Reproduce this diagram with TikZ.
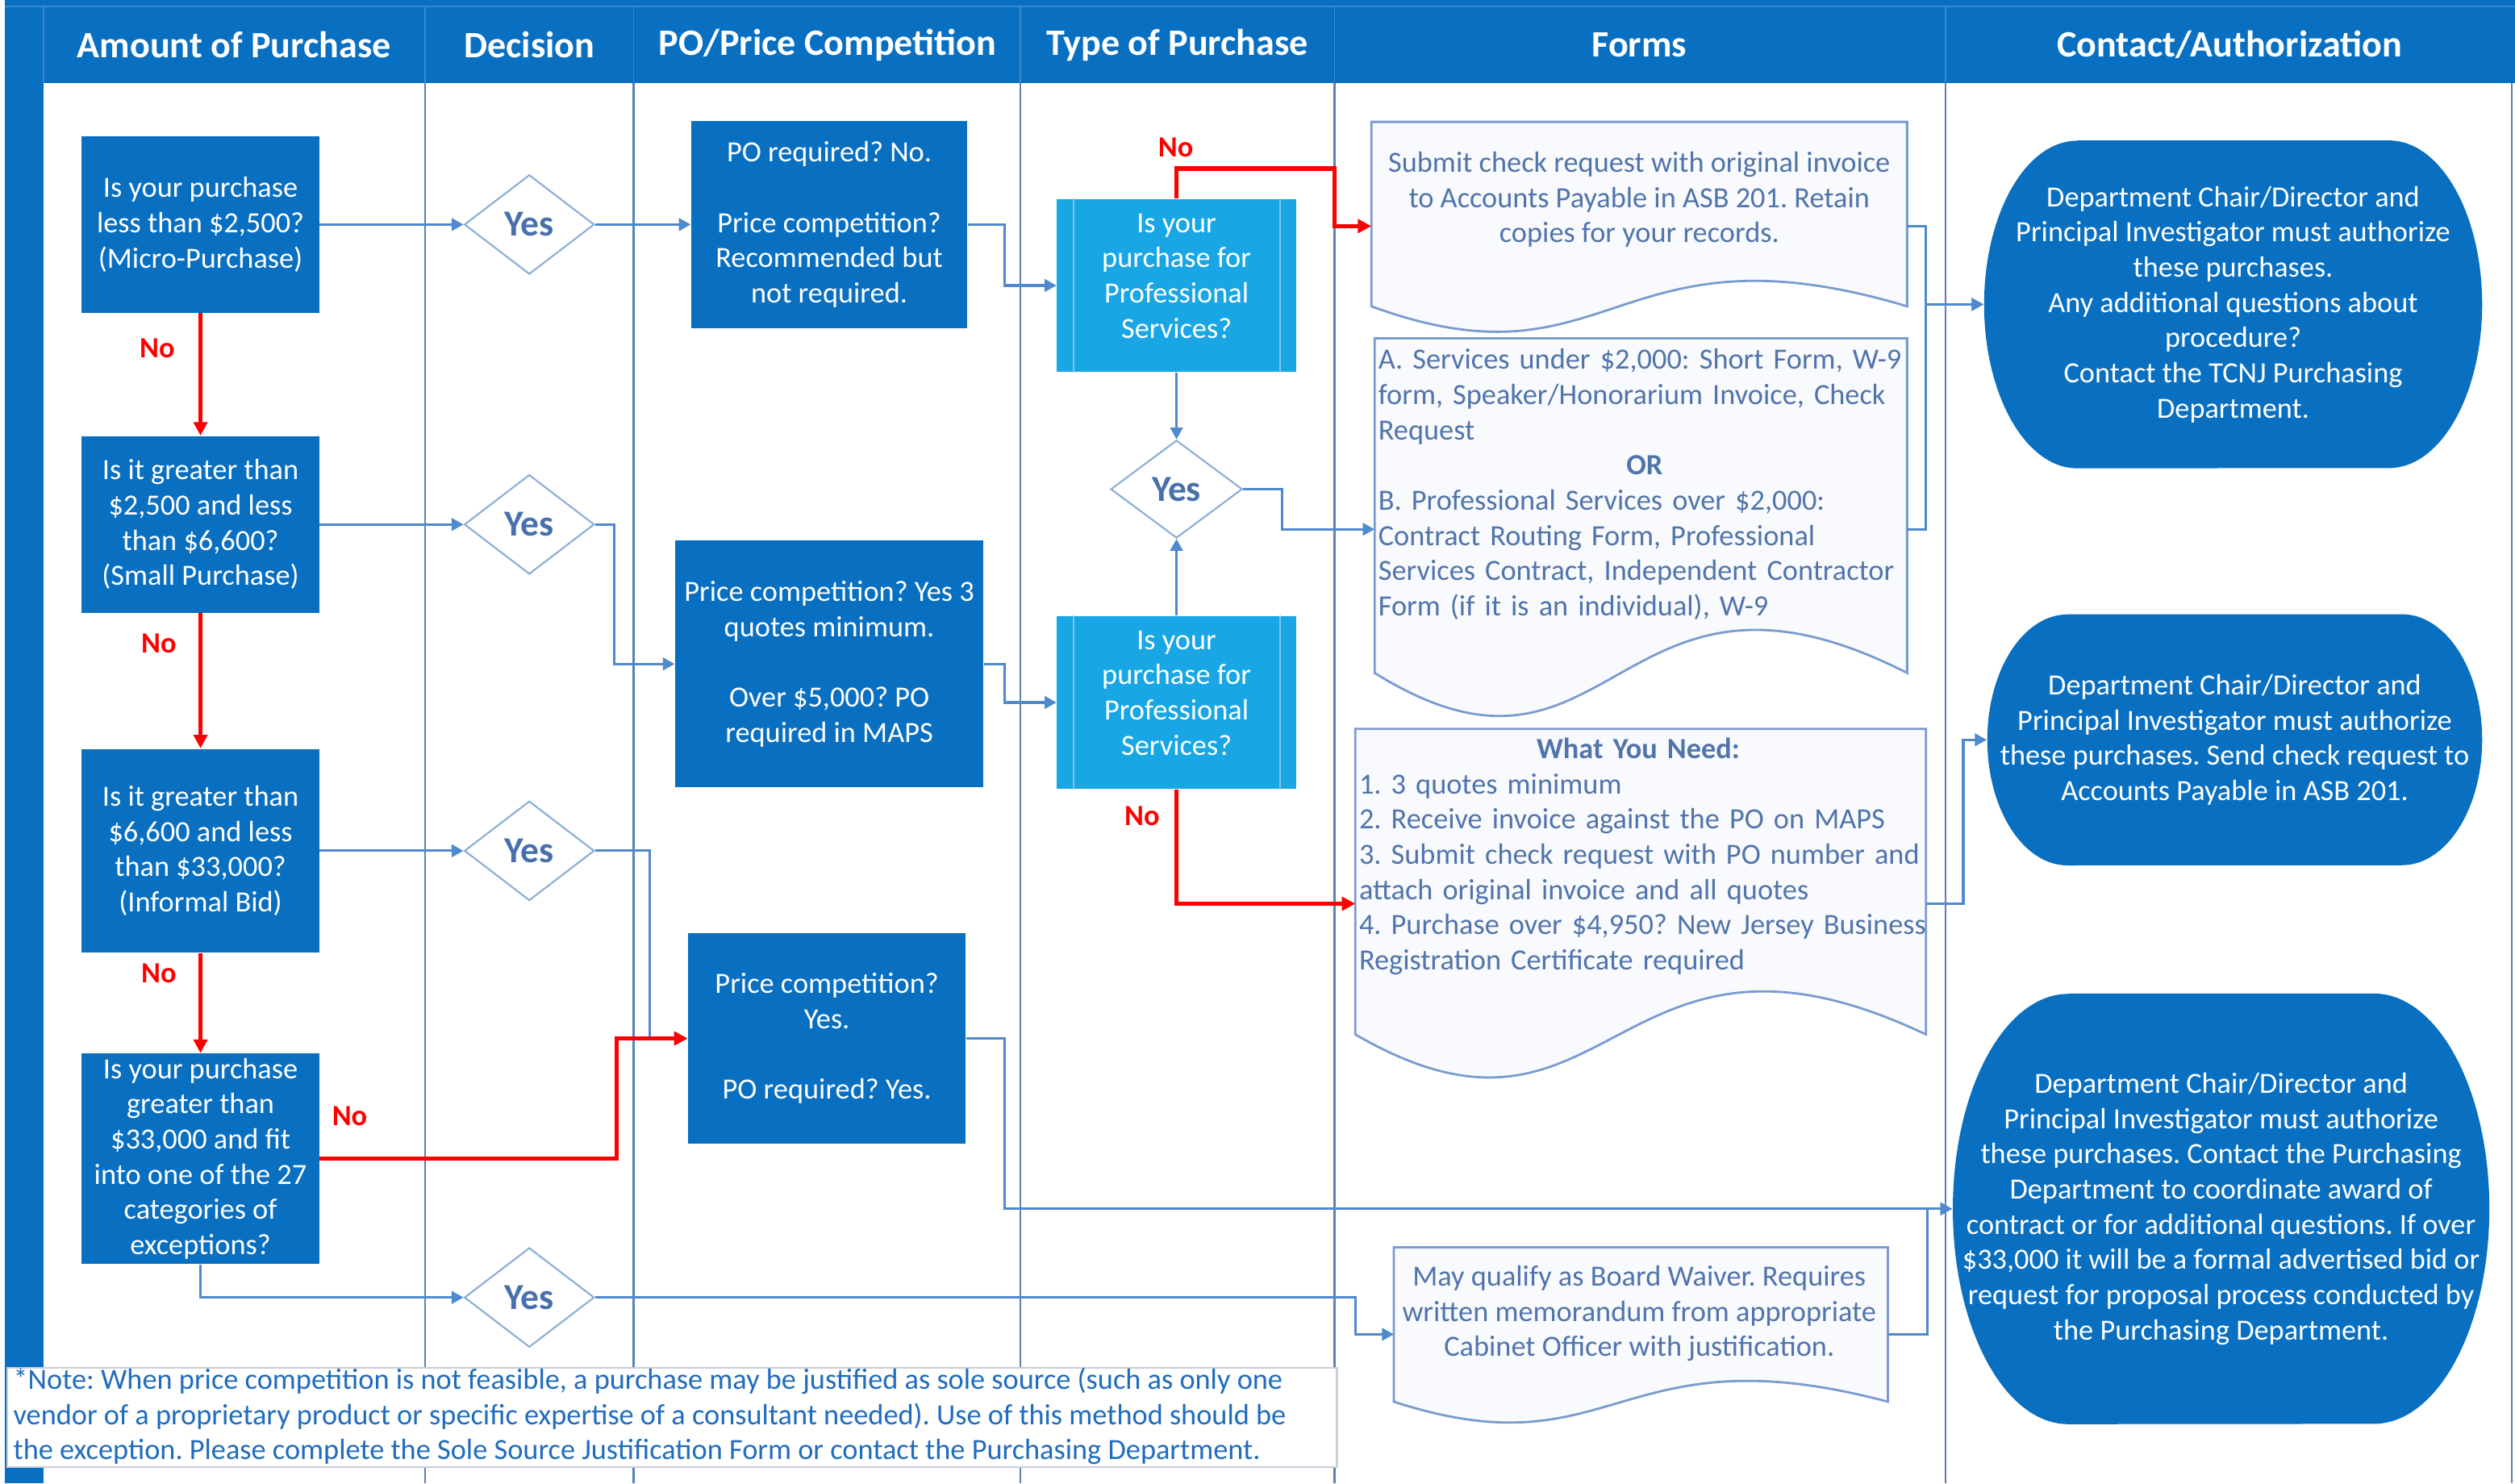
\documentclass[tikz,border=0pt]{standalone}
\usepackage{fontspec}
\setmainfont{Carlito}
\usetikzlibrary{arrows.meta,shapes.geometric}
\definecolor{hdr}{RGB}{8,111,193}
\definecolor{boxblue}{RGB}{8,111,193}
\definecolor{cyanbox}{RGB}{24,166,228}
\definecolor{connblue}{RGB}{79,137,206}
\definecolor{sepcol}{RGB}{92,128,184}
\definecolor{hsepcol}{RGB}{60,135,205}
\definecolor{diacol}{RGB}{140,172,215}
\definecolor{yestxt}{RGB}{72,112,172}
\definecolor{formtxt}{RGB}{80,116,172}
\definecolor{formline}{RGB}{122,155,208}
\definecolor{formfill}{RGB}{249,250,253}
\definecolor{notetxt}{RGB}{32,108,190}
\definecolor{noteline}{RGB}{200,207,218}
\definecolor{innercol}{RGB}{125,200,240}
\definecolor{nored}{RGB}{255,0,0}
% document shape: x0 x1 top yend K
\newcommand{\docpath}[5]{(#1,#4) -- (#1,#3) -- (#2,#3) -- (#2,#4) .. controls ({#1+0.45*(#2-#1)},{#4-#5}) and ({#1+0.45*(#2-#1)},{#4+#5}) .. (#1,#4) -- cycle}
% rounded terminal shape: x0 x1 y0 y1 R
\newcommand{\termpath}[5]{({#1+#5},#3) -- ({#2-#5},#3) arc[start angle=90,end angle=0,x radius={#5*0.02cm},y radius={(#4-#3)*0.01cm}] arc[start angle=0,end angle=-90,x radius={#5*0.02cm},y radius={(#4-#3)*0.01cm}] -- ({#1+#5},#4) arc[start angle=270,end angle=180,x radius={#5*0.02cm},y radius={(#4-#3)*0.01cm}] arc[start angle=180,end angle=90,x radius={#5*0.02cm},y radius={(#4-#3)*0.01cm}] -- cycle}
\tikzset{
 sz/.style 2 args={minimum width=#1*0.02cm, minimum height=#2*0.02cm},
 body/.style={font=\fontsize{10.4}{12.5}\selectfont, align=center, inner sep=0pt},
 abox/.style={body, fill=boxblue, text=white, sz={148}{110}},
 tbox/.style={fill=cyanbox, inner sep=0pt, sz={149}{108}},
 ttext/.style={body, text=white},
 yesd/.style={diamond, draw=diacol, line width=0.6pt, fill=white, inner sep=0pt, sz={81}{62}, font=\fontsize{13}{15}\selectfont\bfseries, text=yestxt},
 hdrtext/.style={font=\fontsize{13.2}{15}\selectfont\bfseries, text=white, inner sep=0pt},
 formt/.style={body, text=formtxt},
 ctext/.style={body, text=white},
 conn/.style={draw=connblue, line width=0.9pt, -{Triangle[length=4.2pt,width=4.4pt]}},
 redc/.style={draw=nored, line width=1.5pt, -{Triangle[length=4.8pt,width=4.8pt]}},
 nolab/.style={font=\fontsize{10.4}{12.5}\selectfont\bfseries, text=nored, inner sep=0pt},
 doc/.style={draw=formline, line width=0.8pt, fill=formfill},
 colline/.style={draw=sepcol, line width=0.6pt},
 hsep/.style={draw=hsepcol, line width=0.5pt},
 inl/.style={draw=innercol, line width=0.6pt}
}
\begin{document}
\frenchspacing
\begin{tikzpicture}[x=0.02cm,y=-0.02cm]
\fill[white] (0,0) rectangle (1568,925);
\useasboundingbox (0,0) rectangle (1568,925);
% frame and header
\fill[hdr] (3,0) rectangle (1568,52);
\fill[hdr] (3,0) rectangle (27,925);
\foreach \xx in {265,395,636,832,1213,1566} \draw[colline] (\xx,52) -- (\xx,925);
\foreach \xx in {27,265,395,636,832,1213} \draw[hsep] (\xx,4) -- (\xx,52);
\draw[hsep] (3,4) -- (1568,4);
\node[hdrtext] (h1) at (146,28) {Amount of Purchase};
\node[hdrtext] (h2) at (330,28) {Decision};
\node[hdrtext] (h3) at (516,28) {PO/Price Competition};
\node[hdrtext] (h4) at (734,28) {Type of Purchase};
\node[hdrtext] (h5) at (1022,28) {Forms};
\node[hdrtext] (h6) at (1390,28) {Contact/Authorization};

% note box
\node[draw=noteline, line width=0.6pt, fill=white, sz={829}{61.5}, anchor=north west, inner sep=0pt] (notebox) at (4,852.5) {};
\node[body, align=left, text=notetxt, anchor=west] (note) at (8,883) {*Note: When price competition is not feasible, a purchase may be justified as sole source (such as only one\\vendor of a proprietary product or specific expertise of a consultant needed). Use of this method should be\\the exception. Please complete the Sole Source Justification Form or contact the Purchasing Department.};

% amount column
\node[abox] (a1) at (125,140) {Is your purchase\\less than \$2,500?\\(Micro-Purchase)};
\node[abox] (a2) at (125,327) {Is it greater than\\\$2,500 and less\\than \$6,600?\\(Small Purchase)};
\node[abox, sz={148}{127}] (a3) at (125,530.5) {Is it greater than\\\$6,600 and less\\than \$33,000?\\(Informal Bid)};
\node[abox, sz={148}{131}] (a4) at (125,722.5) {Is your purchase\\greater than\\\$33,000 and fit\\into one of the 27\\categories of\\exceptions?};

% decisions
\node[yesd] (d1) at (330,140) {Yes};
\node[yesd] (d2) at (330,327) {Yes};
\node[yesd] (d3) at (330,530.5) {Yes};
\node[yesd] (d4) at (330,809) {Yes};

% PO column
\node[abox, sz={172}{129}] (p1) at (517,140) {PO required? No.\\[12.5pt]Price competition?\\Recommended but\\not required.};
\node[abox, sz={192}{154}] (p2) at (517,414) {Price competition? Yes 3\\quotes minimum.\\[12.5pt]Over \$5,000? PO\\required in MAPS};
\node[abox, sz={173}{131}] (p3) at (515.5,647.5) {Price competition?\\Yes.\\[12.5pt]PO required? Yes.};

% type column
\node[tbox] (t1) at (733.5,178) {};
\draw[inl] ([xshift=0.21cm]t1.north west) -- ([xshift=0.21cm]t1.south west);
\draw[inl] ([xshift=-0.21cm]t1.north east) -- ([xshift=-0.21cm]t1.south east);
\node[ttext] (t1t) at (733.5,172) {Is your\\purchase for\\Professional\\Services?};
\node[tbox] (t2) at (733.5,438) {};
\draw[inl] ([xshift=0.21cm]t2.north west) -- ([xshift=0.21cm]t2.south west);
\draw[inl] ([xshift=-0.21cm]t2.north east) -- ([xshift=-0.21cm]t2.south east);
\node[ttext] (t2t) at (733.5,432) {Is your\\purchase for\\Professional\\Services?};
\node[yesd, sz={82}{61}] (dt) at (733.5,305) {Yes};

% forms
\draw[doc] \docpath{855}{1189}{76}{191}{55};
\draw[doc] \docpath{857}{1189}{211}{419.6}{93};
\draw[doc] \docpath{845}{1200.7}{454.5}{645}{93};
\draw[doc] \docpath{869}{1177}{777.7}{874}{45};
\node[formt] (f1) at (1022,124.5) {Submit check request with original invoice\\to Accounts Payable in ASB 201. Retain\\copies for your records.};
\node[formt, align=left, text width=6.9cm, anchor=west] (f2) at (859,302) {A. Services under \$2,000: Short Form, W-9\\form, Speaker/Honorarium Invoice, Check\\Request\\\makebox[6.64cm][c]{\textbf{OR}}\\B. Professional Services over \$2,000:\\Contract Routing Form, Professional\\Services Contract, Independent Contractor\\Form (if it is an individual), W-9};
\node[formt, align=left, text width=7.2cm, anchor=west] (f3) at (847,534) {\makebox[6.96cm][c]{\textbf{What You Need:}}\\1. 3 quotes minimum\\2. Receive invoice against the PO on MAPS\\3. Submit check request with PO number and\\attach original invoice and all quotes\\4. Purchase over \$4,950? New Jersey Business\\Registration Certificate required};
\node[formt] (f4) at (1022,819) {May qualify as Board Waiver. Requires\\written memorandum from appropriate\\Cabinet Officer with justification.};
\coordinate (f1in) at (855,141);
\coordinate (f1out) at (1189,141);
\coordinate (f2in) at (857,330);
\coordinate (f2out) at (1189,330);
\coordinate (f3in) at (845,563.5);
\coordinate (f3out) at (1200.7,563.5);
\coordinate (f4in) at (869,832);
\coordinate (f4out) at (1177,832);

% contacts
\fill[boxblue] \termpath{1237}{1547.5}{87.6}{292}{58};
\fill[boxblue] \termpath{1239}{1547.5}{383}{539.6}{50};
\fill[boxblue] \termpath{1217.5}{1552}{619.5}{888}{72};
\node[ctext, sz={310.5}{204.4}] (c1) at (1392.25,189.8) {Department Chair/Director and\\Principal Investigator must authorize\\these purchases.\\Any additional questions about\\procedure?\\Contact the TCNJ Purchasing\\Department.};
\node[ctext, sz={308.5}{156.6}] (c2) at (1393.25,461.3) {Department Chair/Director and\\Principal Investigator must authorize\\these purchases. Send check request to\\Accounts Payable in ASB 201.};
\node[ctext, sz={334.5}{268.5}] (c3) at (1384.75,753.75) {Department Chair/Director and\\Principal Investigator must authorize\\these purchases. Contact the Purchasing\\Department to coordinate award of\\contract or for additional questions. If over\\\$33,000 it will be a formal advertised bid or\\request for proposal process conducted by\\the Purchasing Department.};

% blue connectors
\draw[conn] (a1.east) -- (d1.west);
\draw[conn] (d1.east) -- (p1.west);
\draw[conn] (a2.east) -- (d2.west);
\draw[conn] (d2.east) -- ++(12,0) |- (p2.west);
\draw[conn] (a3.east) -- (d3.west);
\draw[conn] (d3.east) -- ++(34,0) |- (p3.west);
\draw[conn] (a4.south) |- (d4.west);
\draw[conn] (d4.east) -- ++(474,0) |- (f4in);
\draw[conn] (p1.east) -- ++(23,0) |- (t1.west);
\draw[conn] (p2.east) -- ++(13,0) |- (t2.west);
\draw[conn] (p3.east) -- ++(24,0) |- (c3.west);
\draw[conn] (t1.south) -- (dt.north);
\draw[conn] (t2.north) -- (dt.south);
\draw[conn] (dt.east) -- ++(24.5,0) |- (f2in);
\draw[conn] (f1out) -- ++(11.7,0) |- (c1.west);
\draw[conn] (f2out) -- ++(11.7,0) |- (c1.west);
\draw[conn] (f3out) -- ++(23.3,0) |- (c2.west);
\draw[conn] (f4out) -- ++(24.5,0) |- (c3.west);

% red connectors
\draw[redc, line width=1.2pt] (a1.south) -- (a2.north);
\draw[redc, line width=1.2pt] (a2.south) -- (a3.north);
\draw[redc, line width=1.2pt] (a3.south) -- (a4.north);
\draw[redc] (a4.east) -- ++(185,0) |- (p3.west);
\draw[redc] (t1.north) -- ++(0,-18.5) -- ++(98.5,0) |- (f1in);
\draw[redc] (t2.south) |- (f3in);

% No labels
\node[nolab] (n1) at (98,217) {No};
\node[nolab] (n2) at (99,401) {No};
\node[nolab] (n3) at (99,607) {No};
\node[nolab] (n4) at (218,696) {No};
\node[nolab] (n5) at (733,92) {No};
\node[nolab] (n6) at (712,509) {No};
\end{tikzpicture}
\end{document}
